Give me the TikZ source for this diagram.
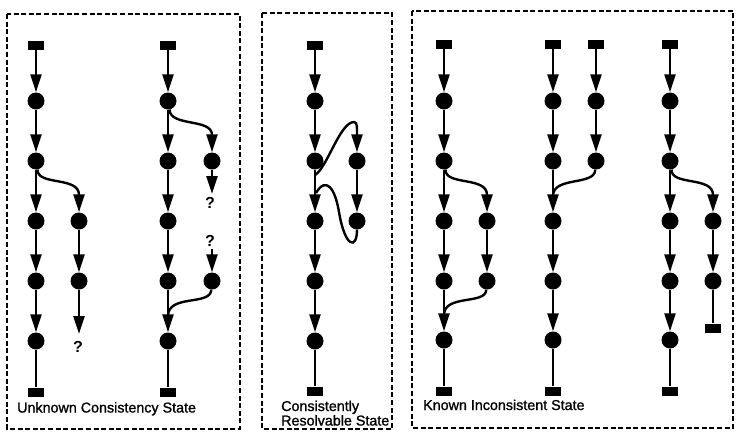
\documentclass[tikz,border=0pt]{standalone}
\usepackage{fontspec}
\setmainfont{Liberation Sans}
\newfontfamily\lblfont[FakeBold=1.2]{Liberation Sans}
\usetikzlibrary{arrows.meta}
\begin{document}
\begin{tikzpicture}[x=1pt,y=-1pt,
  dot/.style={circle,fill=black,inner sep=0pt,minimum size=17pt},
  term/.style={rectangle,fill=black,inner sep=0pt,minimum width=16pt,minimum height=9pt},
  edge/.style={line width=2.4pt},
  arr/.style={edge,-{Triangle[length=18pt,width=11pt]}},
  frame/.style={line width=2.4pt,dash pattern=on 5pt off 2.6pt},
  lbl/.style={font=\lblfont\fontsize{14.3}{14.3}\selectfont,anchor=base west,inner sep=0pt},
  qm/.style={font=\bfseries\fontsize{16}{16}\selectfont,inner sep=0pt}]
\useasboundingbox (0,0) rectangle (737,432);
% frames
\draw[frame] (7,14) rectangle (240,429);
\draw[frame] (262,13) rectangle (392,429);
\draw[frame] (412,11) rectangle (733,428);
% ---------- Box 1, column A
\node[term] (a0) at (36,45) {};
\node[dot] (a1) at (36,101) {};
\node[dot] (a2) at (36,161) {};
\node[dot] (a3) at (36,221) {};
\node[dot] (a4) at (36,281) {};
\node[dot] (a5) at (36,341) {};
\node[term] (a6) at (36,392) {};
\draw[arr] (a0) -- (a1);
\draw[arr] (a1) -- (a2);
\draw[arr] (a2) -- (a3);
\draw[arr] (a3) -- (a4);
\draw[arr] (a4) -- (a5);
\draw[edge] (a5) -- (a6);
\node[dot] (b1) at (79,221) {};
\node[dot] (b2) at (79,281) {};
\coordinate (b3) at (79,334);
\node[qm] (q1) at (78,347) {?};
\draw[arr] (a2.-80) .. controls (37,186) and (79,176) .. (b1);
\draw[arr] (b1) -- (b2);
\draw[arr] (b2) -- (b3);
% ---------- Box 1, column B
\node[term] (c0) at (168,45) {};
\node[dot] (c1) at (168,101) {};
\node[dot] (c2) at (168,161) {};
\node[dot] (c3) at (168,221) {};
\node[dot] (c4) at (168,281) {};
\node[dot] (c5) at (168,341) {};
\node[term] (c6) at (168,392) {};
\draw[arr] (c0) -- (c1);
\draw[arr] (c1) -- (c2);
\draw[arr] (c2) -- (c3);
\draw[arr] (c3) -- (c4);
\draw[arr] (c4) -- (c5);
\draw[edge] (c5) -- (c6);
\node[dot] (d1) at (212,161) {};
\node[dot] (d2) at (212,281) {};
\coordinate (d1e) at (212,194);
\coordinate (d2s) at (212,249);
\coordinate (j1) at (168,316);
\node[qm] (q2) at (210,203) {?};
\node[qm] (q3) at (210,241) {?};
\draw[arr] (c1.-80) .. controls (170,127) and (212,118) .. (d1);
\draw[arr] (d1) -- (d1e);
\draw[arr] (d2s) -- (d2);
\draw[edge] (d2.-95) .. controls (211,306) and (168,294) .. (j1);
% ---------- Box 2
\node[term] (e0) at (315,45) {};
\node[dot] (e1) at (315,101) {};
\node[dot] (e2) at (315,161) {};
\node[dot] (e3) at (315,221) {};
\node[dot] (e4) at (315,281) {};
\node[dot] (e5) at (315,341) {};
\node[term] (e6) at (315,391) {};
\draw[arr] (e0) -- (e1);
\draw[arr] (e1) -- (e2);
\draw[arr] (e2) -- (e3);
\draw[arr] (e3) -- (e4);
\draw[arr] (e4) -- (e5);
\draw[edge] (e5) -- (e6);
\node[dot] (f1) at (357,161) {};
\node[dot] (f2) at (357,221) {};
\draw[arr] (f1) -- (f2);
\coordinate (e2b) at (315,175);
\coordinate (p1) at (354,122);
\coordinate (p2) at (339,212);
\coordinate (j2) at (316,193);
\draw[arr] (e2b) .. controls (327,168) and (340,122) .. (p1)
  .. controls (357.5,122) and (357,128) .. (f1);
\draw[edge] (f2.south) .. controls (357,250) and (345,248) .. (p2)
  .. controls (335,188) and (326,176) .. (j2);
% ---------- Box 3, column A
\node[term] (g0) at (444,44) {};
\node[dot] (g1) at (444,101) {};
\node[dot] (g2) at (444,161) {};
\node[dot] (g3) at (444,221) {};
\node[dot] (g4) at (444,281) {};
\node[dot] (g5) at (444,340) {};
\node[term] (g6) at (444,391) {};
\draw[arr] (g0) -- (g1);
\draw[arr] (g1) -- (g2);
\draw[arr] (g2) -- (g3);
\draw[arr] (g3) -- (g4);
\draw[arr] (g4) -- (g5);
\draw[edge] (g5) -- (g6);
\node[dot] (h1) at (487,221) {};
\node[dot] (h2) at (487,281) {};
\coordinate (j3) at (444,315);
\draw[arr] (g2.-80) .. controls (445,186) and (487,176) .. (h1);
\draw[arr] (h1) -- (h2);
\draw[edge] (h2.-95) .. controls (486,305) and (444,294) .. (j3);
% ---------- Box 3, columns B and C
\node[term] (k0) at (553,44) {};
\node[dot] (k1) at (553,101) {};
\node[dot] (k2) at (553,161) {};
\node[dot] (k3) at (553,221) {};
\node[dot] (k4) at (553,281) {};
\node[dot] (k5) at (553,340) {};
\node[term] (k6) at (553,391) {};
\draw[arr] (k0) -- (k1);
\draw[arr] (k1) -- (k2);
\draw[arr] (k2) -- (k3);
\draw[arr] (k3) -- (k4);
\draw[arr] (k4) -- (k5);
\draw[edge] (k5) -- (k6);
\node[term] (l0) at (596,44) {};
\node[dot] (l1) at (596,101) {};
\node[dot] (l2) at (596,161) {};
\draw[arr] (l0) -- (l1);
\draw[arr] (l1) -- (l2);
\coordinate (j4) at (553,196);
\draw[edge] (l2.-95) .. controls (595,186) and (553,176) .. (j4);
% ---------- Box 3, column D
\node[term] (m0) at (670,44) {};
\node[dot] (m1) at (670,101) {};
\node[dot] (m2) at (670,161) {};
\node[dot] (m3) at (670,221) {};
\node[dot] (m4) at (670,281) {};
\node[dot] (m5) at (670,340) {};
\node[term] (m6) at (670,391) {};
\draw[arr] (m0) -- (m1);
\draw[arr] (m1) -- (m2);
\draw[arr] (m2) -- (m3);
\draw[arr] (m3) -- (m4);
\draw[arr] (m4) -- (m5);
\draw[edge] (m5) -- (m6);
\node[dot] (n1) at (713,221) {};
\node[dot] (n2) at (713,281) {};
\node[term] (n3) at (713,328) {};
\draw[arr] (m2.-80) .. controls (671,186) and (713,176) .. (n1);
\draw[arr] (n1) -- (n2);
\draw[edge] (n2) -- (n3);
% ---------- labels
\node[lbl] (t1) at (17,412.5) {Unknown Consistency State};
\node[lbl] (t2) at (281,411) {Consistently};
\node[lbl] (t3) at (281,425.5) {Resolvable State};
\node[lbl] (t4) at (423,410) {Known Inconsistent State};
\end{tikzpicture}
\end{document}
